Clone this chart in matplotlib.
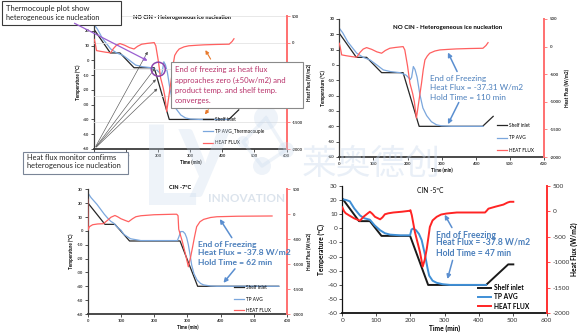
import matplotlib
matplotlib.use("Agg")
import matplotlib.pyplot as plt
from matplotlib.patches import Rectangle, Ellipse, Circle

plt.rcParams['font.family'] = ['Lato', 'DejaVu Sans']

# ---------------- data ----------------
# NO CIN run (shown in the two upper charts)
nocin_shelf_t = [0, 50, 80, 124, 187, 234, 420, 451]
nocin_shelf_T = [20.7, 5, 5, -5, -5, -40, -40, -33.5]
nocin_tp_t = [0, 10, 25, 51, 70, 90, 110, 129, 150, 178, 195, 202, 208, 212, 217,
              222, 228, 236, 245, 256, 270, 285, 300, 330, 380, 421]
nocin_tp_T = [24, 21, 15, 7.7, 5, 3.3, 0, -3.2, -4.3, -5, -6.5, -8, -9.5, -8, -1,
              -3, -8, -19, -28, -33, -37, -39, -39.7, -40, -40, -40]
nocin_hf_t = [0, 3, 7, 20, 35, 51, 60, 70, 80, 95, 110, 124, 135, 148, 165, 187,
              192, 200, 207, 215, 220, 226, 233, 241, 246, 251, 258, 265, 280, 295,
              320, 343, 380, 421, 430, 436]
nocin_hf_v = [60, -20, -150, -165, -180, -193, -110, -45, -18, -50, -95, -120, -70,
              -30, -15, 0, -60, -350, -663, -850, -1000, -1295, -1000, -663, -420,
              -241, -170, -120, -80, -60, -50, -42, -35, -30, 20, 72]

# CIN -7 C run
cin7_shelf_t = [0, 1, 52, 82, 126, 278, 331, 575]
cin7_shelf_T = [30, 20, 4.7, 4.7, -7.3, -7.3, -40, -40]
cin7_tp_t = [0, 10, 28, 50, 59, 69, 79, 90, 100, 109, 129, 160, 200, 270, 275, 280,
             287, 293, 298, 303, 308, 313, 320, 329, 340, 349, 370, 389, 575]
cin7_tp_T = [27.6, 24, 19.1, 12, 9.5, 7, 5.4, 2.5, 0.5, -2.6, -5.7, -7, -7, -7, -4,
             -0.5, -0.5, -2, -5, -10, -17, -24.6, -31, -35.4, -38, -39, -39.8, -40, -40]
cin7_hf_t = [0, 1, 5, 15, 30, 47, 60, 70, 82, 90, 100, 115, 123, 135, 145, 160, 200,
             258, 268, 272, 274, 285, 295, 303, 310, 316, 322, 328, 338, 349, 370,
             389, 450, 555]
cin7_hf_v = [300, -320, -250, -210, -195, -190, -120, -60, -25, -50, -90, -130, -150,
             -90, -50, -30, -10, 0, 0, -30, -300, -550, -820, -1053, -850, -650, -440,
             -250, -150, -103, -65, -50, -40, -35]

# CIN -5 C run
cin5_shelf_t = [0, 49, 81, 115, 199, 252, 422, 487, 502]
cin5_shelf_T = [21, 5, 5, -5.4, -5.4, -40, -40, -25.5, -25.5]
cin5_tp_t = [0, 10, 22, 35, 52, 65, 81, 95, 111, 125, 140, 170, 199, 203, 207, 216,
             225, 233, 243, 250, 255, 265, 277, 295, 316, 422]
cin5_tp_T = [20.4, 20, 19, 14, 9, 7, 6, 2, -1.4, -3.5, -4.5, -5, -5, -1, -0.3, -1.3,
             -4, -8.4, -19, -28, -33.4, -37, -38.5, -39.5, -40, -40]
cin5_hf_t = [0, 5, 10, 22, 35, 52, 62, 75, 81, 88, 96, 111, 118, 125, 135, 150, 175,
             199, 200, 202, 204, 213, 228, 236, 242, 248, 253, 257, 265, 277, 290,
             306, 336, 419, 424, 429, 450, 473, 485, 492, 502]
cin5_hf_v = [76, 0, -40, -90, -140, -186, -110, -40, -10, -50, -110, -159, -120, -60,
             -41, -25, -10, 10, 20, -30, -78, -405, -800, -1087, -950, -735, -500,
             -308, -180, -110, -65, -45, -25, -25, 10, 50, 90, 130, 170, 185, 185]

temp_ticks = [30, 20, 10, 0, -10, -20, -30, -40, -50, -60]
flux_ticks = [500, 0, -500, -1000, -1500, -2000]
time_ticks = [0, 100, 200, 300, 400, 500, 600]

W, H = 578, 335
fig = plt.figure(figsize=(W / 100, H / 100), dpi=100)


def px_rect(x0, y0, x1, y1):
    return [x0 / W, 1 - y1 / H, (x1 - x0) / W, (y1 - y0) / H]


def panel(box, title, series, tp_label, st):
    ax = fig.add_axes(px_rect(*box))
    ax.set_facecolor('none')
    ax2 = ax.twinx()
    ax2.set_facecolor('none')
    (st_t, st_T), (tp_t, tp_T), (hf_t, hf_v) = series
    l1, = ax.plot(st_t, st_T, color=st['black'], lw=st['lw'], label='Shelf inlet')
    l2, = ax.plot(tp_t, tp_T, color=st['blue'], lw=st['lw'], label=tp_label)
    l3, = ax2.plot(hf_t, hf_v, color=st['red'], lw=st['lw'], label='HEAT FLUX')
    ax.set_xlim(0, 600)
    ax.set_ylim(-60, 30)
    ax2.set_ylim(-2000, 500)
    ax.set_xticks(time_ticks)
    ax.set_yticks(temp_ticks)
    ax2.set_yticks(flux_ticks)
    tfs = st['tick_fs']
    tw = st['tick_weight']
    ax.set_xticklabels([str(v) for v in time_ticks], fontsize=tfs, fontweight=tw)
    ax.set_yticklabels([str(v) for v in temp_ticks], fontsize=tfs, fontweight=tw)
    ax2.set_yticklabels([str(v) for v in flux_ticks], fontsize=tfs, fontweight=tw)
    ax.tick_params(length=2, width=0.6, pad=1.5, colors='#333')
    ax2.tick_params(length=2, width=0.6, pad=2, colors=st['spine_red'],
                    labelcolor='#333')
    for a in (ax, ax2):
        a.spines['top'].set_visible(False)
    ax.spines['right'].set_visible(False)
    ax2.spines['left'].set_visible(False)
    ax2.spines['bottom'].set_visible(False)
    ax.spines['left'].set_color(st['axis'])
    ax.spines['bottom'].set_color(st['axis'])
    ax.spines['left'].set_linewidth(0.9)
    ax.spines['bottom'].set_linewidth(1.3)
    ax2.spines['right'].set_color(st['spine_red'])
    ax2.spines['right'].set_linewidth(1.4)
    if st.get('grid'):
        ax2.yaxis.grid(True, color='#e4e4e4', lw=0.6)
        ax2.set_axisbelow(True)
    ax.set_xlabel('Time (min)', fontsize=st['lab_fs'], fontweight='bold',
                  labelpad=st['xpad'])
    ax.set_ylabel('Temperature (ºC)', fontsize=st['lab_fs'], fontweight=st['lab_w'],
                  labelpad=st['ypad'])
    ax2.set_ylabel('Heat Flux (W/m2)', fontsize=st['lab_fs'], fontweight=st['lab_w'],
                   labelpad=st['y2pad'])
    ax.set_title(title, fontsize=st['title_fs'], fontweight=st['title_w'],
                 x=st['title_x'], y=st['title_y'], ha='center', pad=0)
    ax2.legend([l1, l2, l3], ['Shelf inlet', tp_label, 'HEAT FLUX'],
               loc='center left', bbox_to_anchor=st['leg'], frameon=False,
               prop={'weight': st['leg_w'], 'size': st['leg_fs']},
               handlelength=st['hl'], handletextpad=0.4,
               labelspacing=st['ls'], borderpad=0, borderaxespad=0)
    return ax, ax2


small = dict(black='#262626', blue='#7ba7dd', red='#ff6060', lw=0.9,
             spine_red='#ff7070', axis='#3a3a3a', tick_fs=3.0, tick_weight='bold',
             lab_fs=3.3, lab_w='bold', title_fs=4.0, title_w='bold',
             xpad=1.0, ypad=1.5, y2pad=2.5, leg_fs=3.4, leg_w='normal', hl=2.2,
             ls=1.6)

p1 = dict(small, grid=True, title_x=0.454, title_y=0.975, leg=(0.565, 0.135),
          ls=1.4)
p2 = dict(small, title_fs=4.4, title_x=0.53, title_y=0.93, leg=(0.77, 0.138),
          tick_fs=3.2, ls=1.6, lab_fs=3.4)
p3 = dict(small, title_x=0.463, title_y=1.0, leg=(0.734, 0.12), ls=1.4,
          title_fs=4.0)
p4 = dict(black='#1a1a1a', blue='#3f8fd6', red='#ff2424', lw=1.4,
          spine_red='#ff3030', axis='#111111', tick_fs=4.6, tick_weight='normal',
          lab_fs=4.8, lab_w='bold', title_fs=4.8, title_w='normal',
          title_x=0.43, title_y=0.94, xpad=1.5, ypad=1.5, y2pad=1.0, leg_fs=4.8,
          leg_w='bold', hl=2.0, ls=0.35, leg=(0.664, 0.13))

panel((94.3, 16, 286.5, 149), 'NO CIN - Heterogeneous ice nucleation',
      [(nocin_shelf_t, nocin_shelf_T), (nocin_tp_t, nocin_tp_T),
       (nocin_hf_t, nocin_hf_v)], 'TP AVG_Thermocouple', p1)
panel((339.3, 19, 544, 157), 'NO CIN - Heterogeneous ice nucleation',
      [(nocin_shelf_t, nocin_shelf_T), (nocin_tp_t, nocin_tp_T),
       (nocin_hf_t, nocin_hf_v)], 'TP AVG', p2)
panel((87.7, 189.3, 287, 314), 'CIN -7ºC',
      [(cin7_shelf_t, cin7_shelf_T), (cin7_tp_t, cin7_tp_T),
       (cin7_hf_t, cin7_hf_v)], 'TP AVG', p3)
panel((342.3, 185.7, 546.7, 313.3), 'CIN -5ºC',
      [(cin5_shelf_t, cin5_shelf_T), (cin5_tp_t, cin5_tp_T),
       (cin5_hf_t, cin5_hf_v)], 'TP AVG', p4)

# ---------------- overlay in pixel coordinates ----------------
ov = fig.add_axes([0, 0, 1, 1], zorder=10)
ov.set_xlim(0, W)
ov.set_ylim(H, 0)
ov.axis('off')
ov.patch.set_alpha(0)

# watermark
wm = '#c9d9ec'
wa = 0.3
ov.text(140, 205, 'L', fontsize=80, fontweight='bold', color=wm, alpha=wa,
        ha='left', va='baseline', zorder=1)
ov.text(178, 180, 'y', fontsize=72, fontweight='bold', color=wm, alpha=wa,
        ha='left', va='baseline', zorder=1)
for (cx, cy, r) in [(266, 118, 12), (243, 142, 6), (286, 150, 8), (262, 166, 9)]:
    ov.add_patch(Circle((cx, cy), r, color=wm, alpha=wa, lw=0, zorder=1))
ov.plot([266, 243, 262, 286, 266], [118, 142, 166, 150, 118], color=wm,
        alpha=wa, lw=2.5, zorder=1)
ov.text(247, 198, 'INNOVATION', fontsize=8.5, fontweight='bold', color='#b9c9db',
        alpha=0.5, ha='center', va='center', zorder=1)
ov.text(371, 164, '莱奥德创', fontsize=25,
        family=['Noto Sans CJK SC', 'DejaVu Sans'], color=wm, alpha=0.4,
        ha='center', va='center', zorder=1)

# text boxes on the NO CIN chart
ov.add_patch(Rectangle((1.5, 0.5), 119, 24.5, facecolor='white',
                       edgecolor='#3a3a3a', lw=0.8, zorder=5))
ov.text(6, 8.3, 'Thermocouple plot show', fontsize=5.5, color='#222',
        va='center', zorder=6)
ov.text(6, 17.7, 'heterogeneous ice nucleation', fontsize=5.2, color='#222',
        va='center', zorder=6)

ov.add_patch(Rectangle((22.7, 151.7), 105.6, 22.3, facecolor='white',
                       edgecolor='#7a8597', lw=0.8, zorder=5))
ov.text(27.3, 157.3, 'Heat flux monitor confirms', fontsize=5.4, color='#222',
        va='center', zorder=6)
ov.text(27.3, 165.7, 'heterogenous ice nucleation', fontsize=5.4, color='#222',
        va='center', zorder=6)

ov.add_patch(Rectangle((170.7, 61.7), 132.3, 46, facecolor='white',
                       edgecolor='#8a8a8a', lw=0.8, zorder=5))
pink = '#b8326a'
for yy, line in zip([69.7, 80, 90, 100],
                    ['End of freezing as heat flux',
                     'approaches zero (±50w/m2) and',
                     'product temp. and shelf temp.',
                     'converges.']):
    ov.text(175, yy, line, fontsize=5.6, color=pink, va='center', zorder=6)

# purple pointer and circle
ov.annotate('', xy=(150, 62), xytext=(72, 22),
            arrowprops=dict(arrowstyle='-|>', color='#9a5fd0', lw=0.9,
                            mutation_scale=5), zorder=7)
ov.add_patch(Ellipse((158.3, 69.2), 14, 14, fill=False, edgecolor='#8e44ad',
                     lw=1.1, zorder=7))

# fan of grey pointers from the lower box
for tip in [(149, 49.3), (156.7, 66), (157.7, 77.3), (159.3, 86.7)]:
    ov.annotate('', xy=tip, xytext=(94.3, 149),
                arrowprops=dict(arrowstyle='-|>', color='#555555', lw=0.45,
                                mutation_scale=4), zorder=4)

# orange pointers
for tail, tip in [((212, 61.5), (204, 47.7)), ((210, 107.5), (203.3, 116.7))]:
    ov.annotate('', xy=tip, xytext=tail,
                arrowprops=dict(arrowstyle='-|>', color='#e8792b', lw=0.8,
                                mutation_scale=5), zorder=7)

# end-of-freezing labels
blue_txt = '#4a7ebb'
notes = [
    ((430, 78.3, 87.3, 97.3), '-37.31 W/m2', '110 min', 'normal', 5.9,
     [((458.3, 74), (446.7, 50)), ((460, 100), (446.7, 126.7))]),
    ((198.3, 245, 252.3, 262.7), '-37.8 W/m2', '62 min', 'bold', 6.1,
     [((233.3, 240), (218.3, 216.7)), ((236.7, 266.7), (221.7, 285))]),
    ((435.7, 235, 242.3, 253.3), '-37.8 W/m2', '47 min', 'bold', 6.2,
     [((453.3, 230), (443.3, 212.3)), ((453.3, 257.7), (446.7, 281.7))]),
]
for (x, y1, y2, y3), flux, hold, wt, fs, arrows in notes:
    ov.text(x, y1, 'End of Freezing', fontsize=fs, fontweight=wt, color=blue_txt,
            va='center', zorder=6)
    ov.text(x, y2, 'Heat Flux = ' + flux, fontsize=fs, fontweight=wt,
            color=blue_txt, va='center', zorder=6)
    ov.text(x, y3, 'Hold Time = ' + hold, fontsize=fs, fontweight=wt,
            color=blue_txt, va='center', zorder=6)
    for tail, tip in arrows:
        ov.annotate('', xy=tip, xytext=tail,
                    arrowprops=dict(arrowstyle='-|>', color='#5b8fd0', lw=1.1,
                                    mutation_scale=6), zorder=6)

fig.savefig('out.png', dpi=100)
